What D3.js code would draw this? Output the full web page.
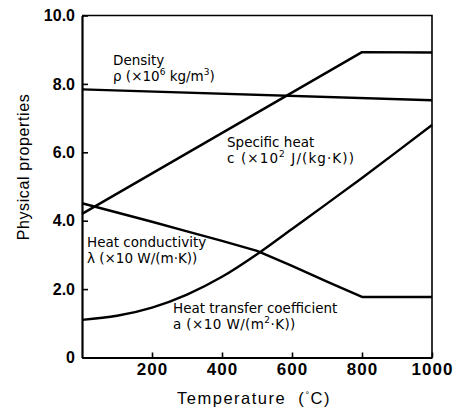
<!DOCTYPE html>
<html><head><meta charset="utf-8">
<script src="https://cdn.jsdelivr.net/npm/d3@7"></script>
<style>
body{margin:0;background:#fff;}
svg{display:block;}
</style></head>
<body>
<svg id="c" width="453" height="413"></svg>
<script>
// Data (temperature °C -> value)
const xTicks = [200, 400, 600, 800, 1000];
const yTicks = [0, 2, 4, 6, 8, 10];
const yTickLabels = ["0", "2.0", "4.0", "6.0", "8.0", "10.0"];

const densityT = [0, 1000];
const densityV = [7.84, 7.52];

const specHeatT = [0, 800, 1000];
const specHeatV = [4.2, 8.93, 8.92];

const condT = [0, 100, 200, 300, 400, 500, 600, 700, 800, 1000];
const condV = [4.51, 4.24, 3.97, 3.69, 3.41, 3.12, 2.68, 2.22, 1.77, 1.77];

const htcT = [0, 100, 200, 300, 400, 500, 600, 700, 800, 900, 1000];
const htcV = [1.1, 1.22, 1.46, 1.84, 2.36, 3.02, 3.76, 4.5, 5.25, 6.02, 6.8];

const svg = d3.select("#c");
const x = d3.scaleLinear().domain([0, 1000]).range([82, 432]);
const y = d3.scaleLinear().domain([0, 10]).range([357.5, 15.5]);

// frame (top/right)
svg.append("path")
  .attr("d", `M${x(0)},${y(10)}H${x(1000)}V${y(0)}`)
  .attr("fill", "none").attr("stroke", "#000").attr("stroke-width", 1.6);

// axes
const yAxis = d3.axisLeft(y).tickValues(yTicks)
  .tickFormat((d, i) => yTickLabels[i]).tickSizeInner(-6).tickSizeOuter(0).tickPadding(7);
const gy = svg.append("g").attr("transform", `translate(${x(0)},0)`).call(yAxis);
gy.selectAll("text").attr("font-family", "Liberation Sans, Arial, sans-serif")
  .attr("font-weight", "bold").attr("font-size", 16).attr("fill", "#000");

const xAxis = d3.axisBottom(x).tickValues(xTicks).tickFormat(d3.format("d"))
  .tickSizeInner(-5).tickSizeOuter(0).tickPadding(5);
const gx = svg.append("g").attr("transform", `translate(0,${y(0)})`).call(xAxis);
gx.selectAll("text").attr("font-family", "Liberation Sans, Arial, sans-serif")
  .attr("font-weight", "bold").attr("font-size", 17).attr("letter-spacing", 1).attr("fill", "#000");

[gx, gy].forEach(g => {
  g.select(".domain").attr("stroke", "#000").attr("stroke-width", 2.2);
  g.selectAll(".tick line").attr("stroke", "#000").attr("stroke-width", 1.6);
});

// axis titles
svg.append("text")
  .attr("transform", `translate(29,167) rotate(-90)`)
  .attr("text-anchor", "middle")
  .attr("font-family", "Liberation Sans, Arial, sans-serif")
  .attr("font-size", 16).attr("letter-spacing", 0.6).attr("fill", "#000")
  .text("Physical properties");

const xt = svg.append("text")
  .attr("x", 254).attr("y", 404).attr("text-anchor", "middle")
  .attr("font-family", "Liberation Sans, Arial, sans-serif")
  .attr("font-size", 16.5).attr("letter-spacing", 1.5).attr("fill", "#000")
  .attr("xml:space", "preserve");
xt.append("tspan").text("Temperature  (");
xt.append("tspan").attr("font-size", 9).attr("dy", -6).text("°");
xt.append("tspan").attr("dy", 6).text("C)");

// curves
const lineGen = (curve) => d3.line().x(d => x(d[0])).y(d => y(d[1])).curve(curve);
const series = [
  { t: densityT, v: densityV, c: d3.curveLinear },
  { t: specHeatT, v: specHeatV, c: d3.curveLinear },
  { t: condT, v: condV, c: d3.curveLinear },
  { t: htcT, v: htcV, c: d3.curveMonotoneX }
];
series.forEach(s => {
  svg.append("path")
    .attr("d", lineGen(s.c)(s.t.map((t, i) => [t, s.v[i]])))
    .attr("fill", "none").attr("stroke", "#000").attr("stroke-width", 2.4)
    .attr("stroke-linejoin", "round");
});

// annotations
const FONT = "DejaVu Sans, Verdana, sans-serif";
function label(x0, yb, line1, parts, ls) {
  const g = svg.append("g").attr("font-family", FONT).attr("font-size", 13.5).attr("fill", "#000");
  g.append("text").attr("x", x0).attr("y", yb).text(line1);
  const t = g.append("text").attr("x", x0).attr("y", yb + 16)
    .attr("letter-spacing", ls || 0).attr("xml:space", "preserve");
  parts.forEach(p => {
    if (p.sup) t.append("tspan").attr("font-size", 9).attr("dy", -6).text(p.s);
    else t.append("tspan").attr("dy", p.after ? 6 : 0).text(p.s);
  });
}
label(113, 65, "Density", [{ s: "ρ (×10" }, { s: "6", sup: true }, { s: " kg/m", after: true }, { s: "3", sup: true }, { s: ")", after: true }]);
label(227, 147, "Specific heat", [{ s: "c (×10" }, { s: "2", sup: true }, { s: " J/(kg·K))", after: true }], 1.1);
label(87, 247, "Heat conductivity", [{ s: "λ (×10 W/(m·K))" }]);
label(173, 313, "Heat transfer coefficient", [{ s: "a (×10 W/(m" }, { s: "2", sup: true }, { s: "·K))", after: true }], 0.4);
</script>
</body></html>
